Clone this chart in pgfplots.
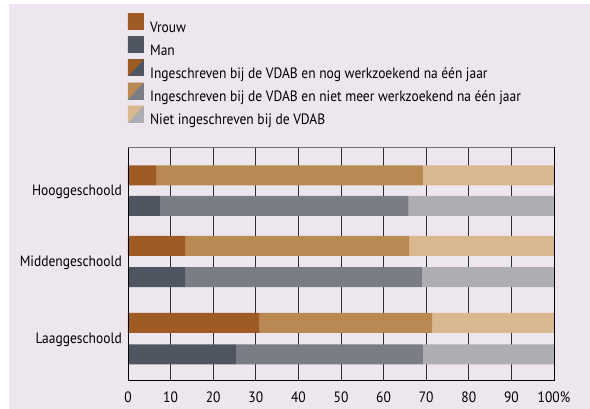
\documentclass[border=0pt]{standalone}
\usepackage{fontspec}
\setmainfont{PT Sans}[FakeStretch=0.9]
\usepackage{pgfplots}
\usepackage{pgfplotstable}
\pgfplotsset{compat=1.18}

\definecolor{bg}{HTML}{EDE6EE}
\definecolor{vd}{HTML}{9E5B24}
\definecolor{vm}{HTML}{B98953}
\definecolor{vl}{HTML}{D9B890}
\definecolor{md}{HTML}{4F5661}
\definecolor{mm}{HTML}{7A7D86}
\definecolor{ml}{HTML}{AEADB2}

% positions are bar centres, values are shares in %
\pgfplotstableread{
pos   dark mid  light
204.6 6.7  62.5 30.8
134.0 13.4 52.6 34.0
57.0  30.8 40.6 28.6
}\vrouw
\pgfplotstableread{
pos   dark mid  light
174.0 7.5  58.4 34.1
102.8 13.4 55.6 31.0
25.7  25.3 43.9 30.8
}\man

\pgfplotsset{
  base/.style={
    at={(128pt,29pt)}, anchor=south west,
    scale only axis, width=426pt, height=232.3pt,
    xmin=0, xmax=100, ymin=0, ymax=232.3,
    xbar stacked, bar width=20,
  },
  split/.style 2 args={legend image code/.code={
      \fill[#2] (0pt,-2.6pt) rectangle (15pt,13.4pt);
      \fill[#1] (0pt,-2.6pt) -- (0pt,13.4pt) -- (15pt,13.4pt) -- cycle;}},
}

\begin{document}
\begin{tikzpicture}
\useasboundingbox (0,0) rectangle (590pt,409pt);
\fill[white] (0,0) rectangle (590pt,409pt);
\fill[bg] (9pt,0) rectangle (590pt,405pt);

\begin{axis}[base,
  axis line style={draw=none},
  xtick={0,10,...,100},
  xticklabels={0,10,20,30,40,50,60,70,80,90,100\%},
  major tick length=0pt,
  xmajorgrids,
  major grid style={draw=black!82, line width=0.85pt},
  ytick={41.35,118.4,189.3},
  yticklabels={Laaggeschoold,Middengeschoold,Hooggeschoold},
  tick label style={font=\fontsize{15}{18}\selectfont, inner sep=0pt},
  xticklabel style={anchor=base, yshift=-22.3pt},
  yticklabel style={anchor=base east, xshift=-6pt, yshift=-5.3pt},
  legend style={at={(0,1.5786)}, anchor=north west, draw=none, fill=none,
    inner sep=0pt, outer sep=0pt, row sep=1.5pt, column sep=6.7pt,
    font=\fontsize{15}{18}\selectfont,
    nodes={inner sep=0pt, text height=13.4pt, text depth=2.6pt}},
  legend cell align=left,
]
\addlegendimage{split={vd}{vd}}
\addlegendimage{split={md}{md}}
\addlegendimage{split={vd}{md}}
\addlegendimage{split={vm}{mm}}
\addlegendimage{split={vl}{ml}}
\addplot[fill=vd, draw=none] table[x=dark, y=pos]{\vrouw};
\addplot[fill=vm, draw=none] table[x=mid, y=pos]{\vrouw};
\addplot[fill=vl, draw=none] table[x=light, y=pos]{\vrouw};
\legend{Vrouw, Man,
  Ingeschreven bij de VDAB en nog werkzoekend na één jaar,
  Ingeschreven bij de VDAB en niet meer werkzoekend na één jaar,
  Niet ingeschreven bij de VDAB}
\end{axis}

\begin{axis}[base, name=fr, axis on top,
  xtick=\empty, ytick=\empty,
  axis line style={black, line width=0.9pt}]
\addplot[fill=md, draw=none] table[x=dark, y=pos]{\man};
\addplot[fill=mm, draw=none] table[x=mid, y=pos]{\man};
\addplot[fill=ml, draw=none] table[x=light, y=pos]{\man};
\end{axis}
\draw[black!55, line width=0.9pt] (fr.north west) -- (fr.north east);
\end{tikzpicture}
\end{document}
